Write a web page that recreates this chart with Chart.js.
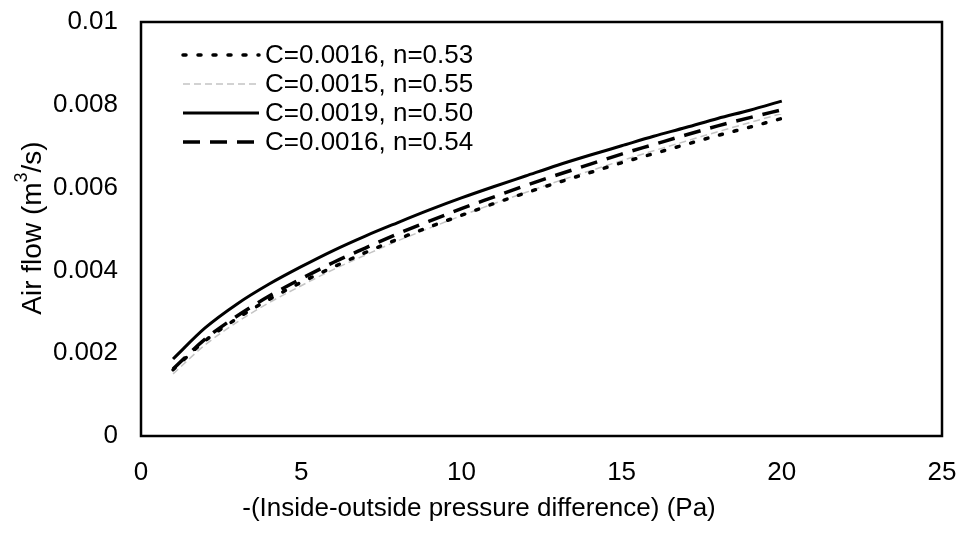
<!DOCTYPE html>
<html>
<head>
<meta charset="utf-8">
<script src="https://cdn.jsdelivr.net/npm/chart.js@4.4.1/dist/chart.umd.min.js"></script>
<style>
  html, body { margin: 0; padding: 0; background: #fff; }
  #wrap { width: 958px; height: 540px; }
</style>
</head>
<body>
<div id="wrap"><canvas id="chart" width="958" height="540"></canvas></div>
<script>
const pressure = [1, 2, 3, 4, 5, 6, 7, 8, 9, 10, 11, 12, 13, 14, 15, 16, 17, 18, 19, 20];

const flowA = [0.00160, 0.00230, 0.00284, 0.00330, 0.00371, 0.00408, 0.00443, 0.00475, 0.00505, 0.00533,
               0.00561, 0.00587, 0.00612, 0.00636, 0.00660, 0.00682, 0.00704, 0.00726, 0.00746, 0.00767];
const flowB = [0.00150, 0.00220, 0.00275, 0.00322, 0.00363, 0.00402, 0.00437, 0.00471, 0.00502, 0.00532,
               0.00561, 0.00588, 0.00615, 0.00640, 0.00665, 0.00689, 0.00712, 0.00735, 0.00757, 0.00779];
const flowC = [0.00186, 0.00261, 0.00319, 0.00367, 0.00409, 0.00448, 0.00483, 0.00515, 0.00546, 0.00575,
               0.00602, 0.00628, 0.00654, 0.00678, 0.00701, 0.00724, 0.00745, 0.00767, 0.00787, 0.00809];
const flowD = [0.00162, 0.00234, 0.00290, 0.00338, 0.00380, 0.00419, 0.00454, 0.00488, 0.00519, 0.00549,
               0.00577, 0.00605, 0.00631, 0.00656, 0.00681, 0.00704, 0.00727, 0.00749, 0.00769, 0.00788];

const seriesNames = ["C=0.0016, n=0.53", "C=0.0015, n=0.55", "C=0.0019, n=0.50", "C=0.0016, n=0.54"];
const xTicks = [0, 5, 10, 15, 20, 25];
const yTicks = [0, 0.002, 0.004, 0.006, 0.008, 0.01];

const FONT = "'Liberation Sans', Arial, sans-serif";

function pts(ys) {
    return pressure.map((x, i) => ({ x: x, y: ys[i] }));
}

// box round the plot area
const frame = {
    id: 'frame',
    afterDatasetsDraw(chart) {
        const a = chart.chartArea;
        const ctx = chart.ctx;
        ctx.save();
        ctx.strokeStyle = '#000';
        ctx.lineWidth = 2.5;
        ctx.strokeRect(a.left, a.top, a.right - a.left, a.bottom - a.top);
        ctx.restore();
    }
};

// legend sits inside the plot, top left
const innerLegend = {
    id: 'innerLegend',
    afterDatasetsDraw(chart) {
        const ctx = chart.ctx;
        const rows = [55, 84, 113, 142];
        ctx.save();
        chart.data.datasets.forEach((ds, i) => {
            const y = rows[i];
            ctx.beginPath();
            ctx.strokeStyle = ds.borderColor;
            ctx.lineWidth = ds.borderWidth;
            ctx.lineCap = ds.borderCapStyle || 'butt';
            ctx.setLineDash(ds.borderDash || []);
            ctx.moveTo(183, y);
            ctx.lineTo(259, y);
            ctx.stroke();
            ctx.setLineDash([]);
            ctx.fillStyle = '#000';
            ctx.font = '26px ' + FONT;
            ctx.textBaseline = 'middle';
            ctx.fillText(ds.label, 265, y + 1);
        });
        ctx.restore();
    }
};

// axis titles
const axisTitles = {
    id: 'axisTitles',
    afterDraw(chart) {
        const ctx = chart.ctx;
        ctx.save();
        ctx.fillStyle = '#000';
        ctx.textBaseline = 'middle';
        ctx.font = '26px ' + FONT;
        ctx.textAlign = 'center';
        ctx.fillText('-(Inside-outside pressure difference) (Pa)', 479, 509);

        ctx.translate(33, 228);
        ctx.rotate(-Math.PI / 2);
        const main = 'Air flow (m';
        const sup = '3';
        const tail = '/s)';
        ctx.font = '28px ' + FONT;
        const w1 = ctx.measureText(main).width;
        const w3 = ctx.measureText(tail).width;
        ctx.font = '18px ' + FONT;
        const w2 = ctx.measureText(sup).width;
        let x = -(w1 + w2 + w3) / 2;
        ctx.textAlign = 'left';
        ctx.font = '28px ' + FONT;
        ctx.fillText(main, x, 0);
        x += w1;
        ctx.font = '18px ' + FONT;
        ctx.fillText(sup, x, -11);
        x += w2;
        ctx.font = '28px ' + FONT;
        ctx.fillText(tail, x, 0);
        ctx.restore();
    }
};

new Chart(document.getElementById('chart'), {
    type: 'line',
    data: {
        datasets: [
            { label: seriesNames[0], data: pts(flowA), borderColor: '#000', borderWidth: 3.5,
              borderDash: [3, 12], borderCapStyle: 'round' },
            { label: seriesNames[1], data: pts(flowB), borderColor: '#c4c4c4', borderWidth: 1.5,
              borderDash: [7, 4] },
            { label: seriesNames[2], data: pts(flowC), borderColor: '#000', borderWidth: 3 },
            { label: seriesNames[3], data: pts(flowD), borderColor: '#000', borderWidth: 3.5,
              borderDash: [17, 10] }
        ]
    },
    options: {
        responsive: false,
        animation: false,
        layout: { padding: { top: 22, right: 16, left: 0, bottom: 0 } },
        elements: {
            point: { radius: 0 },
            line: { cubicInterpolationMode: 'monotone', fill: false }
        },
        plugins: { legend: { display: false }, tooltip: { enabled: false } },
        scales: {
            x: {
                type: 'linear', min: 0, max: 25,
                afterBuildTicks: s => { s.ticks = xTicks.map(v => ({ value: v })); },
                afterFit: s => { s.height = 104; s.paddingLeft = 0; s.paddingRight = 0; },
                grid: { display: false, drawTicks: false },
                border: { display: false },
                ticks: { color: '#000', font: { family: FONT, size: 26 }, padding: 21, maxRotation: 0 }
            },
            y: {
                type: 'linear', min: 0, max: 0.01,
                afterBuildTicks: s => { s.ticks = yTicks.map(v => ({ value: v })); },
                afterFit: s => { s.width = 141; s.paddingTop = 0; s.paddingBottom = 0; },
                grid: { display: false, drawTicks: false },
                border: { display: false },
                ticks: { color: '#000', font: { family: FONT, size: 26 }, padding: 23,
                         callback: v => String(+v.toFixed(3)) }
            }
        }
    },
    plugins: [frame, innerLegend, axisTitles]
});
</script>
</body>
</html>
